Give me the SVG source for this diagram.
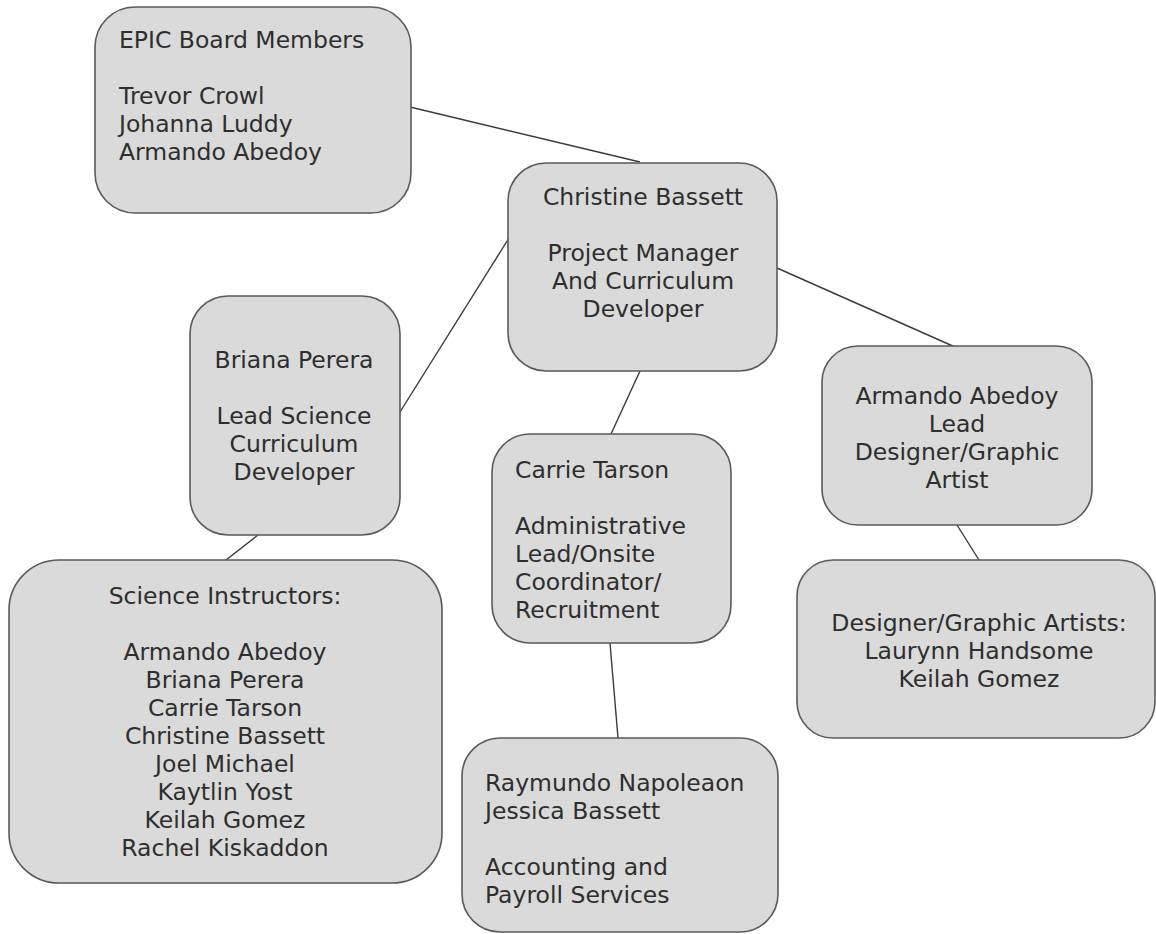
<svg xmlns="http://www.w3.org/2000/svg" width="1156" height="934" viewBox="0 0 1156 934">
  <style>
    .box { fill: #dadada; stroke: #5a5a5a; stroke-width: 1.6; }
    .lbl { font-family: "DejaVu Sans", "Liberation Sans", sans-serif; font-size: 23.5px; fill: #2e2e2e; }
    .mid { text-anchor: middle; }
    .link { stroke: #3a3a3a; stroke-width: 1.4; fill: none; }
  </style>
  <rect width="1156" height="934" fill="#ffffff"/>

  <!-- connectors -->
  <g id="connectors">
    <line class="link" x1="410" y1="107" x2="640" y2="162"/>
    <line class="link" x1="509" y1="238" x2="400" y2="412"/>
    <line class="link" x1="777" y1="268" x2="955" y2="347"/>
    <line class="link" x1="640" y1="371" x2="611" y2="434"/>
    <line class="link" x1="258" y1="535" x2="226" y2="560"/>
    <line class="link" x1="610" y1="643" x2="618" y2="738"/>
    <line class="link" x1="957" y1="525" x2="979" y2="560"/>
  </g>

  <g id="board">
    <rect class="box" x="95" y="7" width="316" height="206" rx="40" ry="40"/>
    <text class="lbl" x="119" y="48">EPIC Board Members</text>
    <text class="lbl" x="119" y="104">Trevor Crowl</text>
    <text class="lbl" x="119" y="132">Johanna Luddy</text>
    <text class="lbl" x="119" y="160">Armando Abedoy</text>
  </g>

  <g id="project-manager">
    <rect class="box" x="508" y="163" width="269" height="208" rx="38" ry="38"/>
    <text class="lbl mid" x="643" y="205">Christine Bassett</text>
    <text class="lbl mid" x="643" y="261">Project Manager</text>
    <text class="lbl mid" x="643" y="289">And Curriculum</text>
    <text class="lbl mid" x="643" y="317">Developer</text>
  </g>

  <g id="science-lead">
    <rect class="box" x="190" y="296" width="210" height="239" rx="38" ry="38"/>
    <text class="lbl mid" x="294" y="368">Briana Perera</text>
    <text class="lbl mid" x="294" y="424">Lead Science</text>
    <text class="lbl mid" x="294" y="452">Curriculum</text>
    <text class="lbl mid" x="294" y="480">Developer</text>
  </g>

  <g id="science-instructors">
    <rect class="box" x="9" y="560" width="433" height="323" rx="50" ry="50"/>
    <text class="lbl mid" x="225" y="604">Science Instructors:</text>
    <text class="lbl mid" x="225" y="660">Armando Abedoy</text>
    <text class="lbl mid" x="225" y="688">Briana Perera</text>
    <text class="lbl mid" x="225" y="716">Carrie Tarson</text>
    <text class="lbl mid" x="225" y="744">Christine Bassett</text>
    <text class="lbl mid" x="225" y="772">Joel Michael</text>
    <text class="lbl mid" x="225" y="800">Kaytlin Yost</text>
    <text class="lbl mid" x="225" y="828">Keilah Gomez</text>
    <text class="lbl mid" x="225" y="856">Rachel Kiskaddon</text>
  </g>

  <g id="admin-lead">
    <rect class="box" x="492" y="434" width="239" height="209" rx="38" ry="38"/>
    <text class="lbl" x="515" y="478">Carrie Tarson</text>
    <text class="lbl" x="515" y="534">Administrative</text>
    <text class="lbl" x="515" y="562">Lead/Onsite</text>
    <text class="lbl" x="515" y="590">Coordinator/</text>
    <text class="lbl" x="515" y="618">Recruitment</text>
  </g>

  <g id="accounting">
    <rect class="box" x="462" y="738" width="316" height="194" rx="38" ry="38"/>
    <text class="lbl" x="485" y="791">Raymundo Napoleaon</text>
    <text class="lbl" x="485" y="819">Jessica Bassett</text>
    <text class="lbl" x="485" y="875">Accounting and</text>
    <text class="lbl" x="485" y="903">Payroll Services</text>
  </g>

  <g id="design-lead">
    <rect class="box" x="822" y="346" width="270" height="179" rx="36" ry="36"/>
    <text class="lbl mid" x="957" y="404">Armando Abedoy</text>
    <text class="lbl mid" x="957" y="432">Lead</text>
    <text class="lbl mid" x="957" y="460">Designer/Graphic</text>
    <text class="lbl mid" x="957" y="488">Artist</text>
  </g>

  <g id="designers">
    <rect class="box" x="797" y="560" width="358" height="178" rx="36" ry="36"/>
    <text class="lbl mid" x="979" y="631">Designer/Graphic Artists:</text>
    <text class="lbl mid" x="979" y="659">Laurynn Handsome</text>
    <text class="lbl mid" x="979" y="687">Keilah Gomez</text>
  </g>
</svg>
